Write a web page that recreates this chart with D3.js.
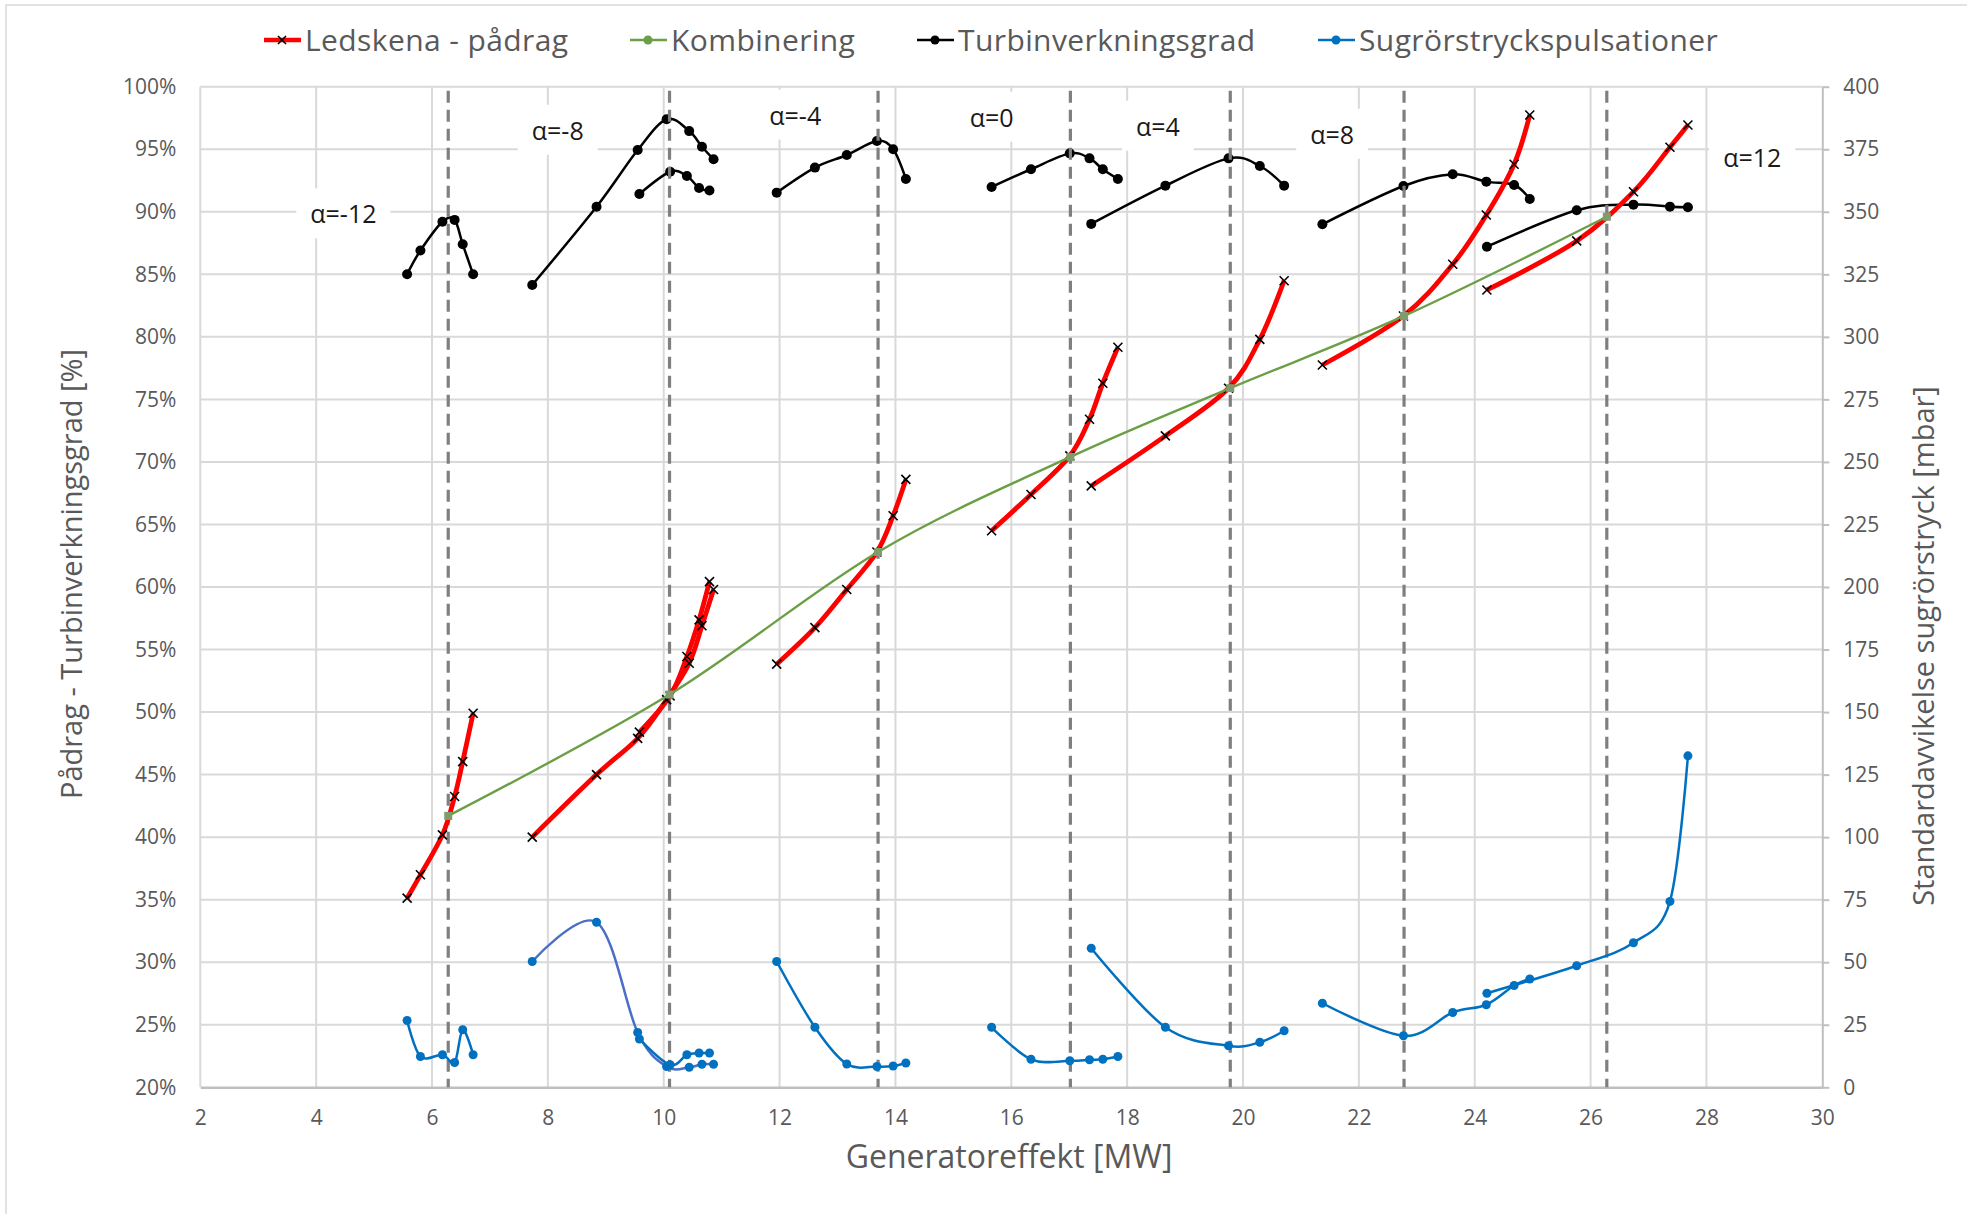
<!DOCTYPE html>
<html>
<head>
<meta charset="utf-8">
<script src="https://cdn.jsdelivr.net/npm/d3@7"></script>
<style>
  body { margin: 0; background: #fff; }
  svg { display: block; font-family: "Open Sans", sans-serif; }
</style>
</head>
<body>
<svg id="chart" width="1967" height="1214"></svg>
<script>
// ---- data ----
const xTickValues = [2, 4, 6, 8, 10, 12, 14, 16, 18, 20, 22, 24, 26, 28, 30];
const leftTickValues = [20, 25, 30, 35, 40, 45, 50, 55, 60, 65, 70, 75, 80, 85, 90, 95, 100];
const rightTickValues = [0, 25, 50, 75, 100, 125, 150, 175, 200, 225, 250, 275, 300, 325, 350, 375, 400];

const seriesNames = ["Ledskena - pådrag", "Kombinering", "Turbinverkningsgrad", "Sugrörstryckspulsationer"];

// one run per guide vane angle (alpha = -8 has two runs)
const runX = [
  [5.57, 5.80, 6.18, 6.39, 6.53, 6.71],
  [7.73, 8.84, 9.55, 10.05, 10.44, 10.66, 10.86],
  [9.58, 10.11, 10.40, 10.61, 10.79],
  [11.95, 12.61, 13.16, 13.68, 13.96, 14.18],
  [15.66, 16.34, 17.01, 17.35, 17.58, 17.84],
  [17.38, 18.66, 19.75, 20.29, 20.71],
  [21.37, 22.77, 23.62, 24.20, 24.68, 24.95],
  [24.21, 25.76, 26.74, 27.37, 27.68]
];
// Turbinverkningsgrad [%]
const turbinEff = [
  [85.0, 86.9, 89.2, 89.35, 87.4, 85.0],
  [84.15, 90.4, 94.94, 97.4, 96.45, 95.2, 94.2],
  [91.42, 93.2, 92.86, 91.9, 91.7],
  [91.53, 93.53, 94.54, 95.66, 95.0, 92.62],
  [91.98, 93.4, 94.67, 94.27, 93.4, 92.62],
  [89.03, 92.09, 94.27, 93.66, 92.09],
  [89.0, 92.06, 93.0, 92.41, 92.14, 91.02],
  [87.21, 90.12, 90.57, 90.41, 90.36]
];
// Ledskena - pådrag [%]
const padrag = [
  [35.12, 36.99, 40.18, 43.25, 46.04, 49.91],
  [40.0, 45.0, 47.9, 51.0, 53.9, 56.9, 59.8],
  [48.4, 51.3, 54.44, 57.37, 60.43],
  [53.83, 56.75, 59.8, 62.8, 65.7, 68.6],
  [64.5, 67.4, 70.48, 73.41, 76.29, 79.17],
  [68.08, 72.08, 75.89, 79.8, 84.49],
  [77.75, 81.67, 85.8, 89.74, 93.8, 97.74],
  [83.75, 87.67, 91.6, 95.16, 96.94]
];
// Sugrörstryckspulsationer [mbar]
const pulsations = [
  [26.7, 12.3, 13.0, 9.9, 23.0, 13.0],
  [50.3, 66.0, 21.9, 8.3, 8.0, 9.2, 9.2],
  [19.3, 9.0, 13.0, 13.7, 13.7],
  [50.3, 24.0, 9.3, 8.3, 8.5, 9.7],
  [24.0, 11.2, 10.6, 11.0, 11.2, 12.3],
  [55.6, 24.0, 16.6, 18.0, 22.6],
  [33.6, 20.6, 29.9, 33.0, 40.7, 43.3],
  [37.6, 48.6, 57.8, 74.3, 132.5]
];
// Kombinering (also where the dashed lines stand)
const comboX = [6.28, 10.10, 13.70, 17.02, 19.78, 22.78, 26.28];
const comboY = [41.7, 51.4, 62.8, 70.4, 75.9, 81.67, 89.6];

const alphaLabels = ["α=-12", "α=-8", "α=-4", "α=0", "α=4", "α=8", "α=12"];
const alphaLabelX = [4.47, 8.17, 12.27, 15.66, 18.53, 21.54, 28.79];
const alphaLabelY = [89.78, 96.46, 97.66, 97.5, 96.78, 96.14, 94.30];

// ---- chart ----
const svg = d3.select("#chart");
const W = 1967, H = 1214;
const plot = { left: 200.3, right: 1822.3, top: 86.7, bottom: 1087.3 };

const x = d3.scaleLinear().domain([2, 30]).range([plot.left, plot.right]);
const yL = d3.scaleLinear().domain([20, 100]).range([plot.bottom, plot.top]);
const yR = d3.scaleLinear().domain([0, 400]).range([plot.bottom, plot.top]);

const gridColor = "#d9d9d9";
const textGray = "#595959";

svg.append("rect").attr("width", W).attr("height", H).attr("fill", "#fff");
svg.append("rect")
  .attr("x", 6).attr("y", 5).attr("width", W + 20).attr("height", H + 20)
  .attr("fill", "none").attr("stroke", gridColor).attr("stroke-width", 1.5);

// gridlines
svg.append("g").selectAll("line")
  .data(leftTickValues.filter(d => d > 20))
  .enter().append("line")
  .attr("x1", plot.left).attr("x2", plot.right)
  .attr("y1", d => yL(d)).attr("y2", d => yL(d))
  .attr("stroke", gridColor).attr("stroke-width", 2);

svg.append("g").selectAll("line")
  .data(xTickValues.filter(d => d < 30))
  .enter().append("line")
  .attr("x1", d => x(d)).attr("x2", d => x(d))
  .attr("y1", plot.top).attr("y2", plot.bottom)
  .attr("stroke", gridColor).attr("stroke-width", 2);

// bottom axis
const xAxis = svg.append("g")
  .attr("transform", "translate(0," + plot.bottom + ")")
  .call(d3.axisBottom(x).tickValues(xTickValues).tickSize(0).tickPadding(23).tickFormat(d3.format("d")));
xAxis.select(".domain").attr("stroke", "#bfbfbf").attr("stroke-width", 2.5);

// left axis
const yAxisL = svg.append("g")
  .attr("transform", "translate(" + plot.left + ",0)")
  .call(d3.axisLeft(yL).tickValues(leftTickValues).tickSize(0).tickPadding(24).tickFormat(d => d + "%"));
yAxisL.select(".domain").remove();

// right axis
const yAxisR = svg.append("g")
  .attr("transform", "translate(" + plot.right + ",0)")
  .call(d3.axisRight(yR).tickValues(rightTickValues).tickSize(7).tickSizeOuter(0).tickPadding(14));
yAxisR.select(".domain").attr("stroke", "#bfbfbf").attr("stroke-width", 2);
yAxisR.selectAll(".tick line").attr("stroke", "#bfbfbf").attr("stroke-width", 2);

svg.selectAll(".tick text")
  .attr("fill", textGray)
  .style("font-size", "21px")
  .style("font-family", "'Open Sans', sans-serif");

// alpha labels with white boxes
const labelG = svg.append("g");
alphaLabels.forEach((lab, i) => {
  const g = labelG.append("g");
  const t = g.append("text")
    .attr("x", x(alphaLabelX[i]))
    .attr("y", yL(alphaLabelY[i]))
    .attr("dy", "0.35em")
    .attr("text-anchor", "middle")
    .attr("fill", "#1a1a1a")
    .style("font-size", "25px")
    .text(lab);
  const bb = t.node().getBBox();
  g.insert("rect", "text")
    .attr("x", bb.x - 14).attr("y", bb.y - 8)
    .attr("width", bb.width + 28).attr("height", bb.height + 16)
    .attr("fill", "#fff");
});

const smooth = d3.curveCatmullRom.alpha(0);

function runPoints(ys) {
  return runX.map((xs, i) => xs.map((v, j) => [v, ys[i][j]]));
}

// Turbinverkningsgrad (black)
const effLine = d3.line().x(d => x(d[0])).y(d => yL(d[1])).curve(smooth);
const effRuns = runPoints(turbinEff);
const effG = svg.append("g");
effG.selectAll("path").data(effRuns).enter().append("path")
  .attr("d", effLine).attr("fill", "none").attr("stroke", "#000").attr("stroke-width", 2.5);
effG.selectAll("circle").data(effRuns.flat()).enter().append("circle")
  .attr("cx", d => x(d[0])).attr("cy", d => yL(d[1])).attr("r", 5).attr("fill", "#000");

// dashed verticals at the combined optimum
svg.append("g").selectAll("line").data(comboX).enter().append("line")
  .attr("x1", d => x(d)).attr("x2", d => x(d))
  .attr("y1", plot.top + 4).attr("y2", plot.bottom)
  .attr("stroke", "#7f7f7f").attr("stroke-width", 3.2)
  .attr("stroke-dasharray", "12,7");

// Sugrörstryckspulsationer (blue, right axis)
const pulsLine = d3.line().x(d => x(d[0])).y(d => yR(d[1])).curve(smooth);
const pulsRuns = runPoints(pulsations);
const pulsG = svg.append("g");
pulsG.selectAll("path").data(pulsRuns).enter().append("path")
  .attr("d", pulsLine).attr("fill", "none")
  .attr("stroke", (d, i) => i === 1 ? "#4a6fc4" : "#0070c0")
  .attr("stroke-width", 2.5);
pulsG.selectAll("circle").data(pulsRuns.flat()).enter().append("circle")
  .attr("cx", d => x(d[0])).attr("cy", d => yR(d[1])).attr("r", 4.5).attr("fill", "#0070c0");

// Ledskena - pådrag (red with x markers)
const padLine = d3.line().x(d => x(d[0])).y(d => yL(d[1])).curve(smooth);
const padRuns = runPoints(padrag);
const padG = svg.append("g");
padG.selectAll("path").data(padRuns).enter().append("path")
  .attr("d", padLine).attr("fill", "none").attr("stroke", "#ff0000").attr("stroke-width", 4.8);
const crossPath = s => `M${-s},${-s}L${s},${s}M${-s},${s}L${s},${-s}`;
padG.selectAll(".mk").data(padRuns.flat()).enter().append("path")
  .attr("class", "mk")
  .attr("transform", d => "translate(" + x(d[0]) + "," + yL(d[1]) + ")")
  .attr("d", crossPath(4.5)).attr("stroke", "#000").attr("stroke-width", 1.6).attr("fill", "none");

// Kombinering (green)
const comboPts = comboX.map((v, i) => [v, comboY[i]]);
const comboG = svg.append("g");
comboG.append("path").datum(comboPts)
  .attr("d", d3.line().x(d => x(d[0])).y(d => yL(d[1])).curve(smooth))
  .attr("fill", "none").attr("stroke", "#6a9f45").attr("stroke-width", 2.4);
comboG.selectAll("rect").data(comboPts).enter().append("rect")
  .attr("x", d => x(d[0]) - 4).attr("y", d => yL(d[1]) - 4)
  .attr("width", 8).attr("height", 8).attr("fill", "#7f9c6c");

// legend
const legendX = [264, 630, 917, 1318];
const legendG = svg.append("g");
seriesNames.forEach((name, i) => {
  const lx = legendX[i], ly = 40;
  const col = ["#ff0000", "#6a9f45", "#000", "#0070c0"][i];
  legendG.append("line")
    .attr("x1", lx).attr("x2", lx + 37).attr("y1", ly).attr("y2", ly)
    .attr("stroke", col).attr("stroke-width", i === 0 ? 4.5 : 2.5);
  if (i === 0) {
    legendG.append("path")
      .attr("transform", "translate(" + (lx + 18) + "," + ly + ")")
      .attr("d", crossPath(4)).attr("stroke", "#000").attr("stroke-width", 1.6);
  } else {
    legendG.append("circle").attr("cx", lx + 18).attr("cy", ly).attr("r", 4.5)
      .attr("fill", i === 1 ? "#6a9f45" : col);
  }
  legendG.append("text")
    .attr("x", lx + 41).attr("y", ly + 11)
    .attr("fill", textGray)
    .style("font-size", "30px")
    .style("letter-spacing", "0.4px")
    .text(name);
});

// axis titles
svg.append("text")
  .attr("x", 1009).attr("y", 1168)
  .attr("text-anchor", "middle").attr("fill", textGray)
  .style("font-size", "32px")
  .text("Generatoreffekt [MW]");

svg.append("text")
  .attr("transform", "translate(82,574) rotate(-90)")
  .attr("text-anchor", "middle").attr("fill", textGray)
  .style("font-size", "29px")
  .text("Pådrag - Turbinverkningsgrad [%]");

svg.append("text")
  .attr("transform", "translate(1934,646) rotate(-90)")
  .attr("text-anchor", "middle").attr("fill", textGray)
  .style("font-size", "29px")
  .text("Standardavvikelse sugrörstryck [mbar]");
</script>
</body>
</html>
